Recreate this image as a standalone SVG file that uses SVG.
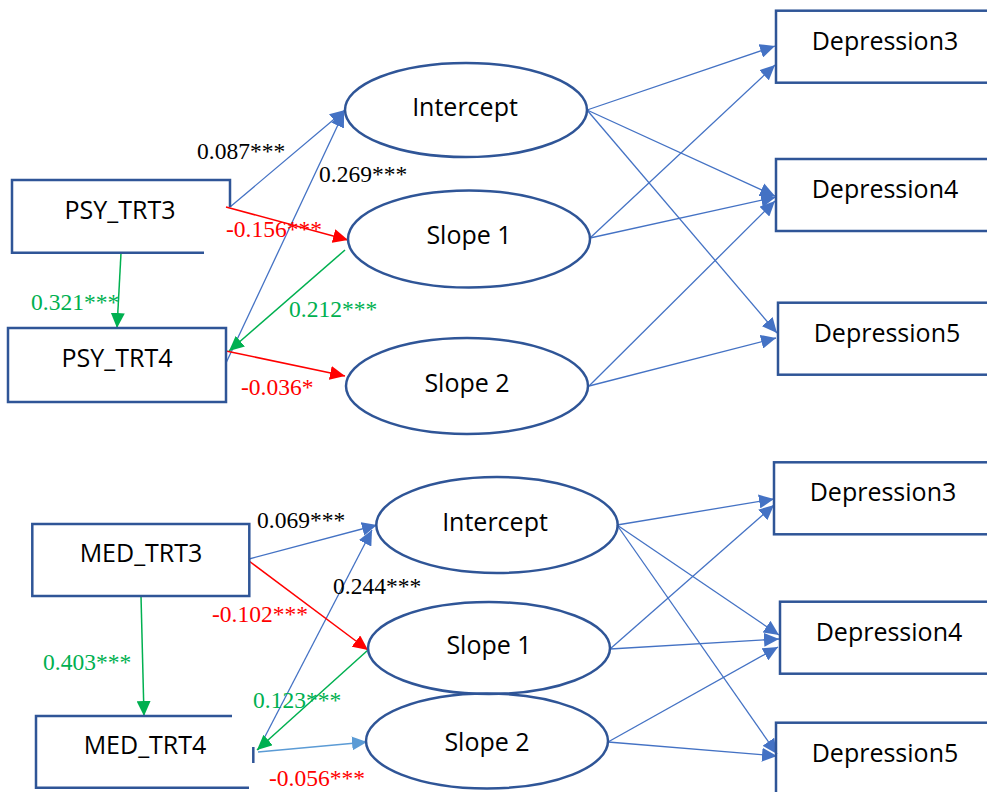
<svg xmlns="http://www.w3.org/2000/svg" width="987" height="792" viewBox="0 0 987 792">
<style>
.box{fill:none;stroke:#2F5597;stroke-width:2.5}
.ell{fill:none;stroke:#2F5597;stroke-width:2.5}
.nt{font-family:"Open Sans","Noto Sans","Liberation Sans",sans-serif;font-size:25px;fill:#000;text-anchor:middle}
.lb{font-family:"Liberation Serif","Times New Roman",serif;font-size:23.5px}
.k{fill:#000}.r{fill:#FF0000}.g{fill:#00B050}
.cb{stroke:#4472C4;stroke-width:1.3;fill:none;marker-end:url(#ab)}
.cl{stroke:#5B9BD5;stroke-width:1.5;fill:none;marker-end:url(#al)}
.cr{stroke:#FF0000;stroke-width:1.5;fill:none;marker-end:url(#ar)}
.cg{stroke:#00B050;stroke-width:1.5;fill:none;marker-end:url(#ag)}
</style>
<defs>
<marker id="ab" markerUnits="userSpaceOnUse" markerWidth="16" markerHeight="14" refX="15" refY="7" orient="auto"><path d="M0,0 L15,7 L0,14 z" fill="#4472C4"/></marker>
<marker id="al" markerUnits="userSpaceOnUse" markerWidth="16" markerHeight="14" refX="15" refY="7" orient="auto"><path d="M0,0 L15,7 L0,14 z" fill="#5B9BD5"/></marker>
<marker id="ar" markerUnits="userSpaceOnUse" markerWidth="16" markerHeight="14" refX="15" refY="7" orient="auto"><path d="M0,0 L15,7 L0,14 z" fill="#FF0000"/></marker>
<marker id="ag" markerUnits="userSpaceOnUse" markerWidth="16" markerHeight="14" refX="15" refY="7" orient="auto"><path d="M0,0 L15,7 L0,14 z" fill="#00B050"/></marker>
</defs>
<rect width="987" height="792" fill="#fff"/>

<g id="connectors">
<line class="cb" x1="230" y1="207" x2="345" y2="110"/>
<line class="cb" x1="226" y1="363" x2="344" y2="112"/>
<line class="cr" x1="226" y1="207" x2="348" y2="240"/>
<line class="cg" x1="121" y1="253" x2="117" y2="328"/>
<line class="cg" x1="345" y1="250" x2="229" y2="351"/>
<line class="cr" x1="226" y1="351" x2="345" y2="376"/>
<line class="cb" x1="587" y1="110" x2="775" y2="46"/>
<line class="cb" x1="587" y1="110" x2="775" y2="196"/>
<line class="cb" x1="587" y1="110" x2="777" y2="333"/>
<line class="cb" x1="590" y1="238" x2="775" y2="65"/>
<line class="cb" x1="590" y1="238" x2="776" y2="197"/>
<line class="cb" x1="589" y1="386" x2="775" y2="201"/>
<line class="cb" x1="589" y1="386" x2="776" y2="338"/>
<line class="cb" x1="249" y1="559" x2="377" y2="525"/>
<line class="cb" x1="258" y1="750" x2="372" y2="530"/>
<line class="cr" x1="249" y1="561" x2="368" y2="650"/>
<line class="cg" x1="141" y1="596" x2="144" y2="716"/>
<line class="cg" x1="368" y1="650" x2="257" y2="750"/>
<line class="cl" x1="258" y1="752" x2="367" y2="742"/>
<line class="cb" x1="617" y1="525" x2="774" y2="499"/>
<line class="cb" x1="617" y1="525" x2="779" y2="635"/>
<line class="cb" x1="617" y1="525" x2="777" y2="754"/>
<line class="cb" x1="610" y1="649" x2="774" y2="505"/>
<line class="cb" x1="610" y1="649" x2="779" y2="639"/>
<line class="cb" x1="608" y1="742" x2="778" y2="647"/>
<line class="cb" x1="608" y1="742" x2="777" y2="756"/>
</g>

<g id="psy_trt3"><path class="box" d="M204,252.7 H12 V180 H230 V207"/><text class="nt" x="120" y="219">PSY_TRT3</text></g>
<g id="psy_trt4"><rect class="box" x="8" y="328" width="218" height="74"/><text class="nt" x="117" y="367">PSY_TRT4</text></g>
<g id="intercept_top"><ellipse class="ell" cx="466" cy="110" rx="121" ry="47"/><text class="nt" x="465" y="116">Intercept</text></g>
<g id="slope1_top"><ellipse class="ell" cx="469" cy="239" rx="121" ry="48.5"/><text class="nt" x="469" y="244">Slope 1</text></g>
<g id="slope2_top"><ellipse class="ell" cx="467" cy="386" rx="121" ry="48"/><text class="nt" x="467" y="392">Slope 2</text></g>
<g id="dep3_top"><rect class="box" x="776" y="10.7" width="230" height="72"/><text class="nt" x="885" y="50">Depression3</text></g>
<g id="dep4_top"><rect class="box" x="776" y="159" width="230" height="72"/><text class="nt" x="885" y="198">Depression4</text></g>
<g id="dep5_top"><rect class="box" x="778" y="302.7" width="230" height="72"/><text class="nt" x="887" y="342">Depression5</text></g>

<g id="med_trt3"><rect class="box" x="32.3" y="524" width="217" height="72"/><text class="nt" x="141" y="562">MED_TRT3</text></g>
<g id="med_trt4"><path class="box" d="M232,716 H36 V787.7 H249"/><path class="box" d="M253.3,747 V763"/><text class="nt" x="145" y="754">MED_TRT4</text></g>
<g id="intercept_bot"><ellipse class="ell" cx="497" cy="525" rx="120.7" ry="48"/><text class="nt" x="495" y="531">Intercept</text></g>
<g id="slope1_bot"><ellipse class="ell" cx="489" cy="648" rx="121" ry="46"/><text class="nt" x="489" y="654">Slope 1</text></g>
<g id="slope2_bot"><ellipse class="ell" cx="487" cy="741" rx="121" ry="47.5"/><text class="nt" x="487" y="751">Slope 2</text></g>
<g id="dep3_bot"><rect class="box" x="774" y="462.3" width="230" height="72"/><text class="nt" x="883" y="501">Depression3</text></g>
<g id="dep4_bot"><rect class="box" x="780" y="601.7" width="230" height="72"/><text class="nt" x="889" y="641">Depression4</text></g>
<g id="dep5_bot"><rect class="box" x="776" y="722.7" width="230" height="80"/><text class="nt" x="885" y="762">Depression5</text></g>

<g id="labels">
<text class="lb k" x="197" y="159">0.087***</text>
<text class="lb k" x="319" y="182">0.269***</text>
<text class="lb r" x="226" y="237">-0.156***</text>
<text class="lb g" x="31" y="310">0.321***</text>
<text class="lb g" x="289" y="317">0.212***</text>
<text class="lb r" x="241" y="395">-0.036*</text>
<text class="lb k" x="257" y="528">0.069***</text>
<text class="lb k" x="333" y="594">0.244***</text>
<text class="lb r" x="212" y="622">-0.102***</text>
<text class="lb g" x="43" y="670">0.403***</text>
<text class="lb g" x="253" y="708">0.123***</text>
<text class="lb r" x="269" y="786">-0.056***</text>
</g>
</svg>
